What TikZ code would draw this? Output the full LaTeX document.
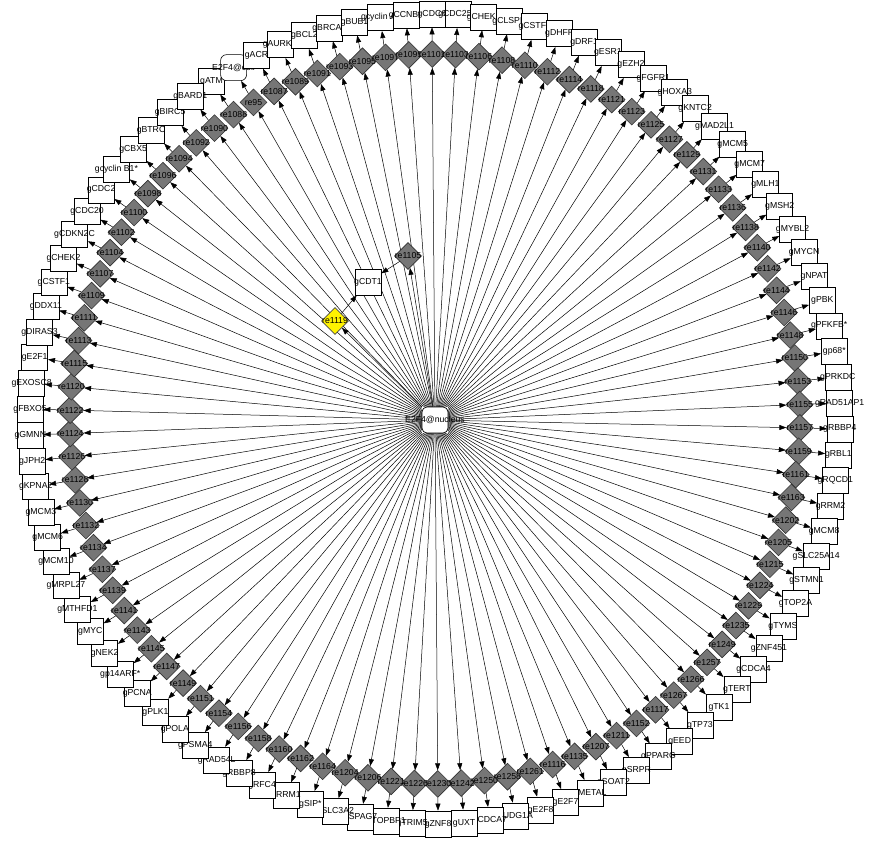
\documentclass[tikz,border=0pt]{standalone}
\usepackage{fontspec}
\setmainfont{Liberation Sans}
\usetikzlibrary{shapes.geometric,arrows.meta,calc}

\definecolor{rxgray}{RGB}{118,118,118}
\definecolor{rxedge}{RGB}{50,50,50}
\tikzset{
  gene/.style={rectangle,draw=black,fill=white,line width=0.6pt,minimum size=26pt,inner sep=1pt},
  corner0/.style={},
  corner1/.style={rounded corners=6pt},
  reaction/.style={diamond,draw=rxedge,fill=rxgray,line width=0.6pt,minimum size=27pt,inner sep=1pt},
  trans/.style={-{Triangle[length=7pt,width=5pt]},line width=0.5pt}
}
\newcommand{\lbl}[1]{\makebox[0pt]{#1}}

\begin{document}
\begin{tikzpicture}[x=1pt,y=-1pt,font=\fontsize{8.7}{10}\selectfont]
    \useasboundingbox (0,0) rectangle (870,842);

    % Centre of the ring
    \coordinate (hub) at (435,419);
    \node[gene,rounded corners=5pt] (nucleus) at (435,420) {};

    % Reactions and target genes around the ring
    \foreach \gname/\rname [count=\k] in {
        gATM/re1088, E2F4@cell/re95, gACR/re1087, gAURKB/re1089, gBCL2/re1091,
        gBRCA1/re1093, gBUB1/re1095, gcyclin A*/re1097, gCCNB2/re1099, gCDC6/re1101,
        gCDC25A/re1103, gCHEK1/re1106, gCLSPN/re1108, gCSTF3/re1110, gDHFR/re1112,
        gDRF1/re1114, gESR1/re1118, gEZH2/re1121, gFGFR1/re1123, gHOXA3/re1125,
        gKNTC2/re1127, gMAD2L1/re1129, gMCM5/re1131, gMCM7/re1133, gMLH1/re1136,
        gMSH2/re1138, gMYBL2/re1140, gMYCN/re1142, gNPAT/re1144, gPBK/re1146,
        gPFKFB*/re1148, gp68*/re1150, gPRKDC/re1153, gRAD51AP1/re1155, gRBBP4/re1157,
        gRBL1/re1159, gRQCD1/re1161, gRRM2/re1163, gMCM8/re1202, gSLC25A14/re1205,
        gSTMN1/re1215, gTOP2A/re1224, gTYMS/re1229, gZNF451/re1235, gCDCA4/re1249,
        gTERT/re1257, gTK1/re1266, gTP73/re1267, gEED/re1117, gPPARG/re1152,
        gSRPR/re1211, gSOAT2/re1207, gMETAL/re1135, gE2F7/re1116, gE2F8/re1261,
        gUDG1A/re1258, gCDCA7/re1250, gUXT/re1242, gZNF8/re1230, gTRIM5/re1226,
        gTOPBP1/re1221, gSPAG7/re1206, gSLC3A2/re1204, gSIP*/re1164, gRRM1/re1162,
        gRFC4/re1160, gRBBP8/re1158, gRAD54L/re1156, gPSMA4/re1154, gPOLA/re1151,
        gPLK1/re1149, gPCNA/re1147, gp14ARF*/re1145, gNEK2/re1143, gMYC/re1141,
        gMTHFD1/re1139, gMRPL27/re1137, gMCM10/re1134, gMCM6/re1132, gMCM3/re1130,
        gKPNA2/re1128, gJPH2/re1126, gGMNN/re1124, gFBXO5/re1122, gEXOSC8/re1120,
        gE2F1/re1115, gDIRAS3/re1113, gDDX11/re1111, gCSTF1/re1109, gCHEK2/re1107,
        gCDKN2C/re1104, gCDC20/re1102, gCDC2/re1100, gcyclin B1*/re1098, gCBX5/re1096,
        gBTRC/re1094, gBIRC5/re1092, gBARD1/re1090}{
        \pgfmathsetmacro{\ang}{-123.5+(\k-1)*3.67347}
        \pgfmathtruncatemacro{\species}{\k==2}
        \node[reaction] (rx\k) at ($(hub)+(\ang:365)$) {\lbl{\rname}};
        \node[gene,corner\species] (gene\k) at ($(hub)+(\ang:405)$) {\lbl{\gname}};
        \draw[trans] (nucleus) -- (rx\k);
        \draw[trans] (rx\k) -- (gene\k);
    }

    % Inner branch to gCDT1
    \node[reaction] (rx1105) at (408,256) {\lbl{re1105}};
    \node[gene] (cdt) at (368,282) {\lbl{gCDT1}};
    \node[reaction,fill=yellow,draw=black!70] (rx1119) at (335,321) {\lbl{re1119}};
    \draw[trans] (nucleus) -- (rx1105);
    \draw[trans] (nucleus) -- (rx1119);
    \draw[trans] (rx1105) -- (cdt);
    \draw[trans] (rx1119) -- (cdt);

    % Central species
    \node[gene,rounded corners=5pt] at (nucleus) {\lbl{E2F4@nucleus}};
\end{tikzpicture}
\end{document}
